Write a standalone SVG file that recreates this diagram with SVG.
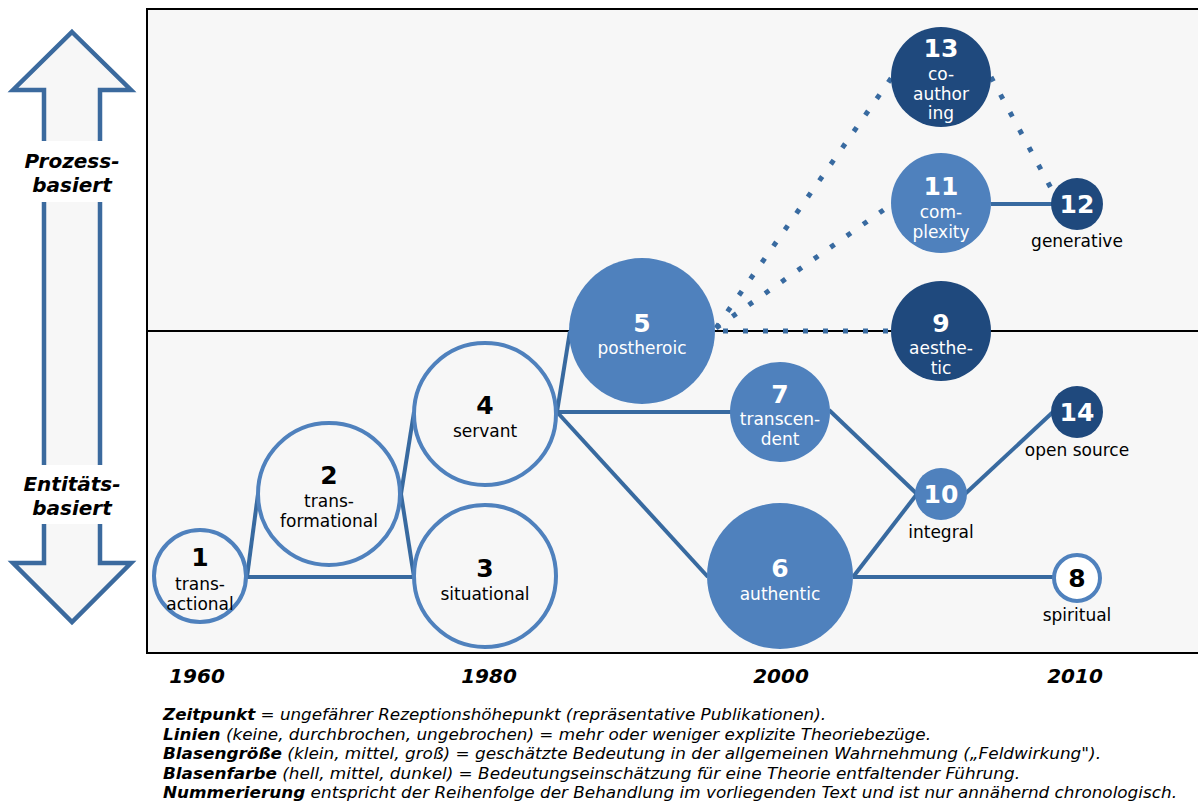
<svg xmlns="http://www.w3.org/2000/svg" width="1198" height="803" viewBox="0 0 1198 803">
  <style>
    .num { font-family: "DejaVu Sans", Verdana, sans-serif; font-weight: bold; font-size: 25px; text-anchor: middle; }
    .lbl { font-family: "DejaVu Sans", Verdana, sans-serif; font-size: 17px; text-anchor: middle; }
    .w { fill: #ffffff; }
    .k { fill: #000000; }
    .outline { fill: #f7f7f7; stroke: #4f81bd; stroke-width: 4; }
    .light { fill: #4f81bd; }
    .dark { fill: #1f497d; }
    .conn { stroke: #386aa0; stroke-width: 4; fill: none; }
    .dot { stroke: #386aa0; stroke-width: 5; fill: none; stroke-dasharray: 5 15; }
    .axis { font-family: "DejaVu Sans", Verdana, sans-serif; font-weight: bold; font-style: italic; font-size: 20px; text-anchor: middle; }
    .year { font-family: "DejaVu Sans", Verdana, sans-serif; font-weight: bold; font-style: italic; font-size: 20px; text-anchor: middle; }
    .legend { font-family: "DejaVu Sans Condensed", "DejaVu Sans", sans-serif; font-style: italic; font-size: 15px; }
    .legend tspan.b { font-weight: bold; }
  </style>

  <rect width="1198" height="803" fill="#ffffff"/>

  <!-- chart frame -->
  <rect x="147" y="9" width="1060" height="644" fill="#f7f7f7" stroke="#000000" stroke-width="2"/>
  <line x1="147" y1="331" x2="1198" y2="331" stroke="#000000" stroke-width="2"/>

  <!-- vertical double arrow -->
  <g id="axis-arrow">
    <polygon points="72,32 131,90 100,90 100,563 131,563 72,622 13,563 44,563 44,90 13,90" fill="#f7f7f7" stroke="#3b6a9e" stroke-width="4.5" stroke-linejoin="miter"/>
    <rect x="38" y="141" width="68" height="61" fill="#ffffff"/>
    <rect x="38" y="465" width="68" height="59" fill="#ffffff"/>
    <text class="axis" x="72" y="168">Prozess-</text>
    <text class="axis" x="72" y="192">basiert</text>
    <text class="axis" x="72" y="491">Entitäts-</text>
    <text class="axis" x="72" y="515">basiert</text>
  </g>

  <!-- connectors -->
  <g id="connectors">
    <line class="conn" x1="247" y1="577" x2="258" y2="494"/>
    <line class="conn" x1="247" y1="577" x2="414" y2="577"/>
    <line class="conn" x1="401" y1="494" x2="414" y2="412"/>
    <line class="conn" x1="401" y1="494" x2="414" y2="577"/>
    <line class="conn" x1="557" y1="412" x2="570" y2="331"/>
    <line class="conn" x1="557" y1="412" x2="731" y2="412"/>
    <line class="conn" x1="557" y1="412" x2="708" y2="577"/>
    <line class="conn" x1="829" y1="410" x2="917" y2="494"/>
    <line class="conn" x1="853" y1="577" x2="917" y2="494"/>
    <line class="conn" x1="853" y1="577" x2="1053" y2="577"/>
    <line class="conn" x1="965" y1="494" x2="1053" y2="412"/>
    <line class="conn" x1="991" y1="204" x2="1052" y2="204"/>
    <line class="dot" x1="716" y1="331" x2="892" y2="331" stroke-dashoffset="-7"/>
    <line class="dot" x1="716" y1="328" x2="892" y2="77"/>
    <line class="dot" x1="716" y1="328" x2="892" y2="204"/>
    <line class="dot" x1="991" y1="77" x2="1052" y2="190"/>
  </g>

  <!-- nodes -->
  <g id="node-1">
    <circle class="outline" cx="200" cy="576" r="46"/>
    <text class="num k" x="200" y="566">1</text>
    <text class="lbl k" x="200" y="590">trans-</text>
    <text class="lbl k" x="200" y="610">actional</text>
  </g>
  <g id="node-2">
    <circle class="outline" cx="329" cy="494" r="71"/>
    <text class="num k" x="329" y="484">2</text>
    <text class="lbl k" x="329" y="507">trans-</text>
    <text class="lbl k" x="329" y="527">formational</text>
  </g>
  <g id="node-3">
    <circle class="outline" cx="485" cy="576" r="71"/>
    <text class="num k" x="485" y="577">3</text>
    <text class="lbl k" x="485" y="600">situational</text>
  </g>
  <g id="node-4">
    <circle class="outline" cx="485" cy="414" r="71"/>
    <text class="num k" x="485" y="414">4</text>
    <text class="lbl k" x="485" y="437">servant</text>
  </g>
  <g id="node-5">
    <circle class="light" cx="642" cy="331" r="73"/>
    <text class="num w" x="642" y="332">5</text>
    <text class="lbl w" x="642" y="354">postheroic</text>
  </g>
  <g id="node-6">
    <circle class="light" cx="780" cy="576" r="73"/>
    <text class="num w" x="780" y="577">6</text>
    <text class="lbl w" x="780" y="600">authentic</text>
  </g>
  <g id="node-7">
    <circle class="light" cx="780" cy="412" r="50"/>
    <text class="num w" x="780" y="403">7</text>
    <text class="lbl w" x="780" y="425">transcen-</text>
    <text class="lbl w" x="780" y="445">dent</text>
  </g>
  <g id="node-8">
    <circle cx="1077" cy="578" r="23" fill="#ffffff" stroke="#4f81bd" stroke-width="4"/>
    <text class="num k" x="1077" y="587">8</text>
    <text class="lbl k" x="1077" y="621">spiritual</text>
  </g>
  <g id="node-9">
    <circle class="dark" cx="941" cy="331" r="50"/>
    <text class="num w" x="941" y="332">9</text>
    <text class="lbl w" x="941" y="354">aesthe-</text>
    <text class="lbl w" x="941" y="374">tic</text>
  </g>
  <g id="node-10">
    <circle class="light" cx="941" cy="494" r="26"/>
    <text class="num w" x="941" y="503">10</text>
    <text class="lbl k" x="941" y="538">integral</text>
  </g>
  <g id="node-11">
    <circle class="light" cx="941" cy="203" r="50"/>
    <text class="num w" x="941" y="195">11</text>
    <text class="lbl w" x="941" y="218">com-</text>
    <text class="lbl w" x="941" y="238">plexity</text>
  </g>
  <g id="node-12">
    <circle class="dark" cx="1077" cy="204" r="26"/>
    <text class="num w" x="1077" y="213">12</text>
    <text class="lbl k" x="1077" y="247">generative</text>
  </g>
  <g id="node-13">
    <circle class="dark" cx="941" cy="77" r="50"/>
    <text class="num w" x="941" y="57">13</text>
    <text class="lbl w" x="941" y="80">co-</text>
    <text class="lbl w" x="941" y="100">author</text>
    <text class="lbl w" x="941" y="119">ing</text>
  </g>
  <g id="node-14">
    <circle class="dark" cx="1077" cy="412" r="26"/>
    <text class="num w" x="1077" y="421">14</text>
    <text class="lbl k" x="1077" y="456">open source</text>
  </g>

  <!-- time axis -->
  <g id="years">
    <text class="year" x="197" y="683">1960</text>
    <text class="year" x="489" y="683">1980</text>
    <text class="year" x="781" y="683">2000</text>
    <text class="year" x="1075" y="683">2010</text>
  </g>

  <!-- legend -->
  <g id="legend" class="legend">
    <text x="163" y="720" textLength="663" lengthAdjust="spacingAndGlyphs"><tspan class="b">Zeitpunkt</tspan> = ungefährer Rezeptionshöhepunkt (repräsentative Publikationen).</text>
    <text x="163" y="740" textLength="768" lengthAdjust="spacingAndGlyphs"><tspan class="b">Linien</tspan> (keine, durchbrochen, ungebrochen) = mehr oder weniger explizite Theoriebezüge.</text>
    <text x="163" y="759" textLength="938" lengthAdjust="spacingAndGlyphs"><tspan class="b">Blasengröße</tspan> (klein, mittel, groß) = geschätzte Bedeutung in der allgemeinen Wahrnehmung („Feldwirkung").</text>
    <text x="163" y="779" textLength="857" lengthAdjust="spacingAndGlyphs"><tspan class="b">Blasenfarbe</tspan> (hell, mittel, dunkel) = Bedeutungseinschätzung für eine Theorie entfaltender Führung.</text>
    <text x="163" y="798" textLength="1014" lengthAdjust="spacingAndGlyphs"><tspan class="b">Nummerierung</tspan> entspricht der Reihenfolge der Behandlung im vorliegenden Text und ist nur annähernd chronologisch.</text>
  </g>
</svg>
